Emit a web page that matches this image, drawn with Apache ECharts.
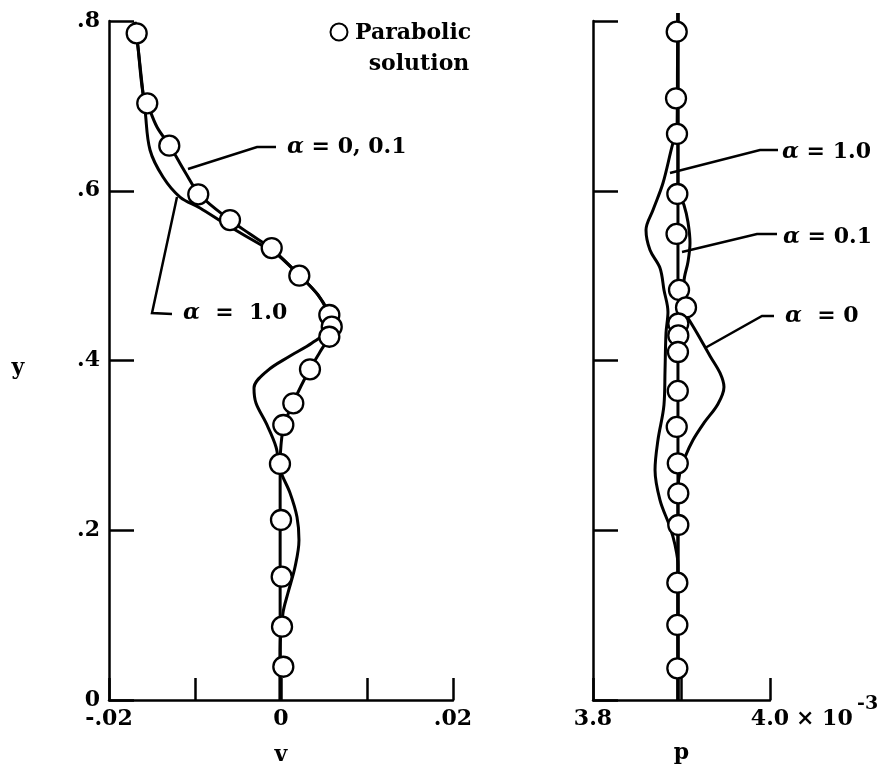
<!DOCTYPE html>
<html>
<head>
<meta charset="utf-8">
<script src="https://cdn.jsdelivr.net/npm/echarts@6/dist/echarts.min.js"></script>
<style>
html,body{margin:0;padding:0;background:#fff;}
#chart{width:890px;height:776px;}
</style>
</head>
<body>
<div id="chart"></div>
<script>
// ---------- data ----------
// Left panel: v versus y
const leftCircleV = [-0.01678,-0.01555,-0.01299,-0.00962,-0.00593,-0.00108,0.00213,0.00562,0.00590,0.00562,0.00337,0.00143,0.00027,-0.00012,0.00000,0.00008,0.00012,0.00027];
const leftCircleY = [0.7855,0.7030,0.6531,0.5958,0.5655,0.5325,0.4999,0.4536,0.4398,0.4280,0.3896,0.3496,0.3240,0.2781,0.2121,0.1453,0.0864,0.0392];

const leftA0V = [-0.01698,-0.01663,-0.01605,-0.01555,-0.01442,-0.01291,-0.01116,-0.00942,-0.00593,-0.00360,-0.00108,0.00221,0.00430,0.00558,0.00593,0.00558,0.00453,0.00337,0.00233,0.00140,0.00035,0.00000,-0.0001,-0.0001,-0.0001,-0.0001,-0.0001];
const leftA0Y = [0.7990,0.7694,0.7152,0.7030,0.6751,0.6527,0.6221,0.5950,0.5655,0.5490,0.5314,0.4996,0.4772,0.4536,0.4395,0.4277,0.4100,0.3900,0.3700,0.3499,0.3240,0.3004,0.2781,0.2121,0.1449,0.0860,0.0000];

const leftA1V = [-0.01698,-0.01663,-0.01605,-0.01581,-0.01523,-0.01372,-0.01174,-0.00942,-0.00628,-0.00209,-0.00090,0.00221,0.00430,0.00550,0.00535,0.00360,0.00105,-0.00163,-0.00314,-0.00291,-0.00174,-0.00058,-0.0001,0.00105,0.00186,0.00209,0.00163,0.00081,0.00023,-0.0001,-0.0001];
const leftA1Y = [0.7990,0.7694,0.7152,0.6951,0.6480,0.6162,0.5926,0.5797,0.5596,0.5349,0.5290,0.4996,0.4772,0.4536,0.4359,0.4206,0.4053,0.3876,0.3676,0.3499,0.3264,0.2981,0.2710,0.2439,0.2156,0.1885,0.1567,0.1261,0.1025,0.0589,0.0000];

// Right panel: p (x 10^-3) versus y
const rightCircleP = [3.8946,3.8938,3.8949,3.8953,3.8944,3.8972,3.9051,3.8964,3.8964,3.8960,3.8958,3.8946,3.8958,3.8964,3.8964,3.8953,3.8953,3.8953];
const rightCircleY = [0.7874,0.7089,0.6669,0.5962,0.5491,0.4831,0.4625,0.4436,0.4295,0.4100,0.3641,0.3217,0.2789,0.2435,0.2062,0.1382,0.0884,0.0373];

const rightA1P = [3.8960,3.8955,3.8949,3.8904,3.8791,3.8678,3.8599,3.8644,3.8757,3.8802,3.8847,3.8825,3.8814,3.8802,3.8734,3.8701,3.8757,3.8870,3.8927,3.8960,3.8960];
const rightA1Y = [0.8094,0.7500,0.6680,0.6563,0.6091,0.5773,0.5538,0.5302,0.5090,0.4831,0.4572,0.4324,0.3888,0.3476,0.3063,0.2710,0.2356,0.2038,0.1826,0.1591,0.0000];

const rightA01P = [3.8960,3.8960,3.8960,3.9028,3.9073,3.9096,3.9073,3.9028,3.9051,3.9006,3.8960,3.8960];
const rightA01Y = [0.8094,0.7000,0.6009,0.5832,0.5632,0.5384,0.5161,0.4925,0.4713,0.4501,0.4300,0.0000];

const rightA0P = [3.8960,3.8960,3.8960,3.9006,3.9073,3.9175,3.9322,3.9435,3.9480,3.9412,3.9254,3.9130,3.9040,3.8983,3.8960,3.8960];
const rightA0Y = [0.8094,0.6500,0.4772,0.4619,0.4501,0.4324,0.4053,0.3853,0.3688,0.3488,0.3264,0.3063,0.2863,0.2686,0.2474,0.0000];

// Tick labels
const vTicks = [-0.02,-0.01,0,0.01,0.02];
const vTickLabels = ['-.02','','0','','.02'];
const pTicks = [3.8,3.9,4.0];
const pTickLabels = ['3.8','','4.0'];
const yTicks = [0,0.2,0.4,0.6,0.8];
const yTickLabels = ['0','.2','.4','.6','.8'];

// ---------- helpers ----------
function zip(a,b){ return a.map((v,i)=>[v,b[i]]); }
function lookup(ticks, labels){
  return function(val){
    for (let i=0;i<ticks.length;i++){ if (Math.abs(ticks[i]-val)<1e-9) return labels[i]; }
    return '';
  };
}
const FONT = 'DejaVu Serif';
const labelStyle = {color:'#000', fontFamily:FONT, fontSize:22, fontWeight:'bold'};
const axisLine = {show:true, onZero:false, lineStyle:{color:'#000', width:2.5}};
const xTick = {show:true, inside:true, length:22, lineStyle:{color:'#000', width:2.5}};
const yTick = {show:true, inside:true, length:25, lineStyle:{color:'#000', width:2.5}};

function lineSeries(name, xi, data){
  return {name, type:'line', xAxisIndex:xi, yAxisIndex:xi, data, smooth:0.35, symbol:'none',
    clip:false, lineStyle:{color:'#000', width:3}, z:3, silent:true};
}
function circleSeries(name, xi, data){
  return {name, type:'scatter', xAxisIndex:xi, yAxisIndex:xi, data, symbol:'circle', symbolSize:20,
    clip:false, itemStyle:{color:'#fff', borderColor:'#000', borderWidth:2.3, opacity:1}, z:5, silent:true};
}

const chart = echarts.init(document.getElementById('chart'), null, {renderer:'canvas'});

const alphaRich = {a:{fontStyle:'italic', fontFamily:FONT, fontSize:22, fontWeight:'bold', fill:'#000'}};
function annText(text, x, y){
  return {type:'text', style:{text, x, y, fill:'#000', fontFamily:FONT, fontSize:22, fontWeight:'bold',
    align:'left', verticalAlign:'middle', rich:alphaRich}};
}
function leader(points){
  return {type:'polyline', shape:{points}, style:{stroke:'#000', lineWidth:2.5, fill:null}};
}

const option = {
  animation:false,
  backgroundColor:'#fff',
  textStyle:{fontFamily:FONT},
  grid:[
    {left:109, top:21, width:344, height:679},
    {left:593, top:21, width:177, height:679}
  ],
  xAxis:[
    {gridIndex:0, type:'value', min:-0.02, max:0.02, interval:0.01,
     axisLine, axisTick:xTick, splitLine:{show:false},
     axisLabel:Object.assign({margin:8, formatter:lookup(vTicks,vTickLabels)}, labelStyle),
     name:'v', nameLocation:'middle', nameGap:44, nameTextStyle:labelStyle},
    {gridIndex:1, type:'value', min:3.8, max:4.0, interval:0.1,
     axisLine, axisTick:xTick, splitLine:{show:false},
     axisLabel:Object.assign({margin:8, formatter:lookup(pTicks,pTickLabels)}, labelStyle),
     name:'p', nameLocation:'middle', nameGap:42, nameTextStyle:labelStyle}
  ],
  yAxis:[
    {gridIndex:0, type:'value', min:0, max:0.8, interval:0.2,
     axisLine, axisTick:yTick, splitLine:{show:false},
     axisLabel:Object.assign({margin:9, formatter:lookup(yTicks,yTickLabels)}, labelStyle)},
    {gridIndex:1, type:'value', min:0, max:0.8, interval:0.2,
     axisLine, axisTick:yTick, splitLine:{show:false},
     axisLabel:{show:false}}
  ],
  series:[
    lineSeries('v, α = 0, 0.1', 0, zip(leftA0V, leftA0Y)),
    lineSeries('v, α = 1.0', 0, zip(leftA1V, leftA1Y)),
    circleSeries('Parabolic solution (v)', 0, zip(leftCircleV, leftCircleY)),
    lineSeries('p, α = 1.0', 1, zip(rightA1P, rightA1Y)),
    lineSeries('p, α = 0.1', 1, zip(rightA01P, rightA01Y)),
    lineSeries('p, α = 0', 1, zip(rightA0P, rightA0Y)),
    circleSeries('Parabolic solution (p)', 1, zip(rightCircleP, rightCircleY))
  ],
  graphic:[
    // legend
    {type:'circle', shape:{cx:339, cy:32, r:8.5}, style:{fill:'#fff', stroke:'#000', lineWidth:2}},
    {type:'text', style:{text:'Parabolic', x:355, y:33, fill:'#000', fontFamily:FONT, fontSize:22, fontWeight:'bold', align:'left', verticalAlign:'middle'}},
    {type:'text', style:{text:'solution', x:419, y:64, fill:'#000', fontFamily:FONT, fontSize:22, fontWeight:'bold', align:'center', verticalAlign:'middle'}},
    // left annotations
    leader([[188,169],[257,147],[276,147]]),
    annText('{a|α} = 0, 0.1', 287, 147),
    leader([[177,197],[152,313],[172,314]]),
    annText('{a|α}  =  1.0', 183, 313),
    // right annotations
    leader([[670,173],[760,150],[778,150]]),
    annText('{a|α} = 1.0', 782, 152),
    leader([[682,252],[757,234],[777,234]]),
    annText('{a|α} = 0.1', 783, 237),
    leader([[705,348],[762,316],[774,316]]),
    annText('{a|α}  = 0', 785, 316),
    // exponent of the right axis
    {type:'text', style:{text:'× 10', x:796, y:719, fill:'#000', fontFamily:FONT, fontSize:22, fontWeight:'bold', align:'left', verticalAlign:'middle'}},
    {type:'text', style:{text:'-3', x:857, y:704, fill:'#000', fontFamily:FONT, fontSize:19, fontWeight:'bold', align:'left', verticalAlign:'middle'}},
    // y axis name
    {type:'text', style:{text:'y', x:18, y:368, fill:'#000', fontFamily:FONT, fontSize:22, fontWeight:'bold', align:'center', verticalAlign:'middle'}}
  ]
};
chart.setOption(option);
</script>
</body>
</html>
